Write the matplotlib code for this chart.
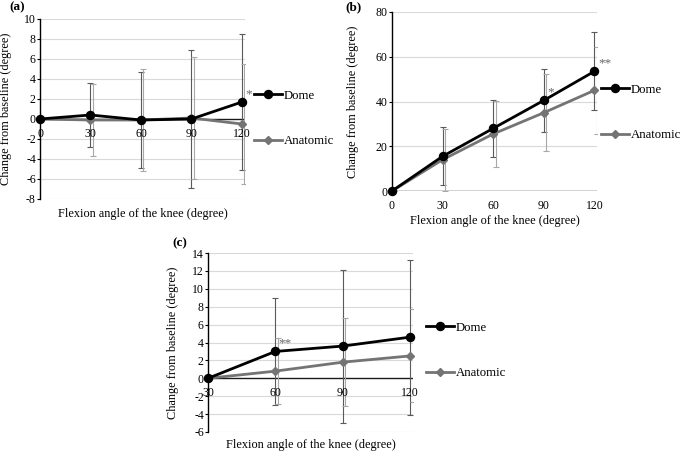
import numpy as np
import matplotlib
matplotlib.use("Agg")
import matplotlib.pyplot as plt
from matplotlib.lines import Line2D
from matplotlib.transforms import ScaledTranslation

plt.rcParams['font.family'] = ['Liberation Serif', 'DejaVu Serif']

# ---- data ----
# (a)
angle_a = [0, 30, 60, 90, 120]
dome_a = [0, 0.4, -0.1, 0.0, 1.7]
dome_a_sd = [0, 3.2, 4.8, 6.9, 6.8]
anat_a = [0, -0.1, -0.1, 0.1, -0.5]
anat_a_sd = [0, 3.6, 5.1, 6.1, 6.0]
# (b)
angle_b = [0, 30, 60, 90, 120]
dome_b = [0, 15.5, 28.0, 40.5, 53.5]
dome_b_sd = [0, 13.0, 12.7, 14.2, 17.5]
anat_b = [0, 14.0, 25.5, 35.0, 45.0]
anat_b_sd = [0, 13.8, 14.8, 17.1, 19.4]
# (c)
angle_c = [30, 60, 90, 120]
dome_c = [0, 3.0, 3.6, 4.6]
dome_c_sd = [0, 5.95, 8.55, 8.65]
anat_c = [0, 0.8, 1.8, 2.5]
anat_c_sd = [0, 3.7, 4.9, 5.2]

W, H = 685, 451
fig = plt.figure(figsize=(W / 100, H / 100), dpi=100)

DOME = 'black'
ANAT = '#747474'
DOME_ERR = '#5a5a5a'
ANAT_ERR = '#a8a8a8'
TICK_FS = 8.5
LAB_FS = 8.8


def px_axes(x0, y0, x1, y1):
    # pixel box (top-left origin) -> figure fraction
    return fig.add_axes([x0 / W, 1 - y1 / H, (x1 - x0) / W, (y1 - y0) / H])


def panel(ax, x, dome, dome_sd, anat, anat_sd, xlim, ylim, yticks,
          tag, tag_xy, ylab_off, xlab_off, leg_xy, stars):
    ax.set_xlim(*xlim)
    ax.set_ylim(*ylim)
    ax.set_yticks(yticks)
    ax.set_xticks([])
    for yt in yticks:
        if yt != 0:
            ax.axhline(yt, color='#d9d9d9', lw=0.8, zorder=0)
    ax.axhline(0, color='#1a1a1a', lw=1.0, zorder=1)
    for s in ['top', 'right', 'bottom']:
        ax.spines[s].set_visible(False)
    ax.spines['left'].set_linewidth(1.0)
    ax.tick_params(axis='y', length=2, width=0.8, pad=1, labelsize=TICK_FS)
    ax.set_yticklabels([str(v) for v in yticks])

    # category labels sitting just below the zero line
    for xv in x:
        ax.annotate(str(xv), (xv, 0), xytext=(0, -6.5), textcoords='offset points',
                    ha='center', va='top', fontsize=TICK_FS)

    off = ScaledTranslation(2.5 / 100, 0, fig.dpi_scale_trans)
    ax.errorbar(x, dome, yerr=dome_sd, fmt='none', ecolor=DOME_ERR,
                elinewidth=0.8, capsize=2.5, capthick=0.8, zorder=2)
    e2 = ax.errorbar(x, anat, yerr=anat_sd, fmt='none', ecolor=ANAT_ERR,
                     elinewidth=0.8, capsize=2.5, capthick=0.8, zorder=2)
    for art in list(e2.lines[1]) + list(e2.lines[2]):
        art.set_transform(ax.transData + off)

    ax.plot(x, anat, color=ANAT, lw=2, marker='D', ms=4.5, zorder=3, clip_on=False)
    ax.plot(x, dome, color=DOME, lw=2, marker='o', ms=5.8, zorder=4, clip_on=False)

    for (sx, sy, st) in stars:
        ax.annotate(st, (sx, sy), xytext=(2.5, 1.5), textcoords='offset points',
                    ha='left', va='bottom', fontsize=9.5, color='#666666')

    ax.set_ylabel('Change from baseline (degree)', fontsize=LAB_FS)
    ax.yaxis.set_label_coords(ylab_off, 0.5)
    ax.set_xlabel('Flexion angle of the knee (degree)', fontsize=LAB_FS)
    ax.xaxis.set_label_coords(0.5, xlab_off)

    fig.text(tag_xy[0] / W, 1 - tag_xy[1] / H, tag, fontsize=9.5, fontweight='bold',
             ha='left', va='center')

    handles = [Line2D([], [], color=DOME, lw=2, marker='o', ms=5.8),
               Line2D([], [], color=ANAT, lw=2, marker='D', ms=4.5)]
    fig.legend(handles, ['Dome', 'Anatomic'], loc='center left',
               bbox_to_anchor=(leg_xy[0] / W, 1 - leg_xy[1] / H),
               frameon=False, fontsize=9.2, labelspacing=2.6,
               handlelength=2.2, handletextpad=0.1, borderpad=0, borderaxespad=0)


ax_a = px_axes(40, 19, 245, 199)
panel(ax_a, angle_a, dome_a, dome_a_sd, anat_a, anat_a_sd,
      (0, 121.8), (-8, 10), list(range(-8, 11, 2)),
      '(a)', (9, 7), -28 / 205, -0.05, (254, 118.5),
      [(120, dome_a[4], '*')])

ax_b = px_axes(392, 12, 597, 191)
panel(ax_b, angle_b, dome_b, dome_b_sd, anat_b, anat_b_sd,
      (0, 121.5), (0, 80), list(range(0, 81, 20)),
      '(b)', (345, 7), -33 / 205, -0.135, (601, 112.5),
      [(90, dome_b[3], '*'), (120, dome_b[4], '**')])

ax_c = px_axes(208, 253, 413, 432)
panel(ax_c, angle_c, dome_c, dome_c_sd, anat_c, anat_c_sd,
      (30, 121.3), (-6, 14), list(range(-6, 15, 2)),
      '(c)', (172, 243), -29 / 205, -0.04, (426, 350.5),
      [(60, dome_c[1], '**')])

fig.savefig('out.png', dpi=100)
